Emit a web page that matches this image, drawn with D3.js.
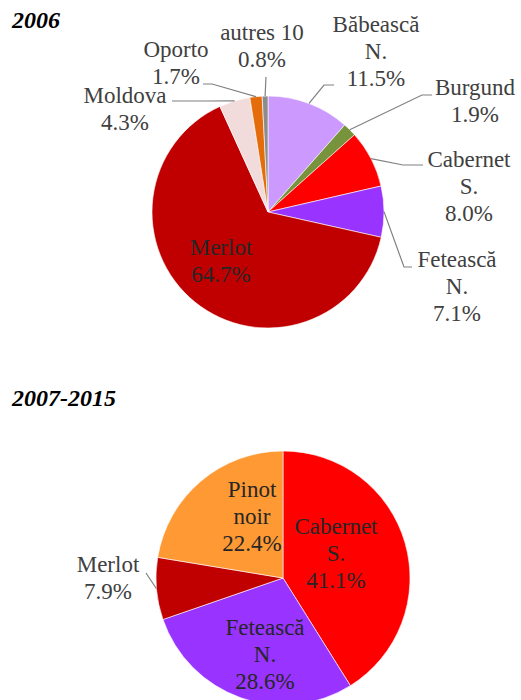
<!DOCTYPE html>
<html>
  <head>
    <meta charset="utf-8" />
    <title>Cépages 2006 / 2007-2015</title>
    <script src="https://d3js.org/d3.v7.min.js"></script>
    <style>
      body {
          margin: 0;
          background: #fff;
      }
    </style>
  </head>
  <body>

    <svg id="chart"></svg>

    <script>
        // data (percent of area)
        var cats2006 = ["Băbească N.", "Burgund", "Cabernet S.", "Fetească N.", "Merlot", "Moldova", "Oporto", "autres 10"];
        var vals2006 = [11.5, 1.9, 8.0, 7.1, 64.7, 4.3, 1.7, 0.8];

        var cats0715 = ["Cabernet S.", "Fetească N.", "Merlot", "Pinot noir"];
        var vals0715 = [41.1, 28.6, 7.9, 22.4];

        var colors2006 = ["#cc99ff", "#77933c", "#ff0000", "#9933ff", "#c00000", "#f2dcdb", "#e46c0a", "#8c8c8c"];
        var colors0715 = ["#ff0000", "#9933ff", "#c00000", "#ff9933"];

        var width = 521;
        var height = 700;
        var lineH = 27;
        var serif = "Liberation Serif";

        var svg = d3.select("#chart")
          .attr("width", width)
          .attr("height", height);

        // label placement: x = centre, y = first baseline, leader = elbow + end (null = inside label)
        var layout2006 = {
          "Băbească N.": {x: 376, y: 32, split: true, leader: [[324, 85], [334, 85]]},
          "Burgund":     {x: 475, y: 95, split: false, leader: [[422, 95], [432, 95]]},
          "Cabernet S.": {x: 469, y: 167, split: true, leader: [[403, 165], [423, 165]]},
          "Fetească N.": {x: 457, y: 267, split: true, leader: [[404, 267], [412, 267]]},
          "Merlot":      {x: 221, y: 255, split: false, leader: null},
          "Moldova":     {x: 125, y: 103, split: false, leader: [[205, 101], [172, 101]]},
          "Oporto":      {x: 176, y: 57, split: false, leader: [[212, 84], [203, 84]]},
          "autres 10":   {x: 262, y: 40, split: false, leader: [[266, 77], [266, 77]]}
        };

        var layout0715 = {
          "Cabernet S.": {x: 336, y: 534, split: true, leader: null},
          "Fetească N.": {x: 265, y: 635, split: true, leader: null},
          "Merlot":      {x: 108, y: 572, split: false, leader: [[146, 573], [146, 573]]},
          "Pinot noir":  {x: 252, y: 497, split: true, leader: null}
        };

        function drawPie(cats, vals, colors, layout, cx, cy, r, title, titleY) {
          svg.append("text")
            .attr("x", 12)
            .attr("y", titleY)
            .style("font-family", serif)
            .style("font-size", "24px")
            .style("font-weight", "bold")
            .style("font-style", "italic")
            .attr("fill", "#000")
            .text(title);

          var color = d3.scaleOrdinal().domain(cats).range(colors);

          var pie = d3.pie().sort(null).value(function(d, i) { return vals[i]; });
          var arcs = pie(cats);

          var arc = d3.arc().innerRadius(0).outerRadius(r);
          var edge = d3.arc().innerRadius(r).outerRadius(r);

          var g = svg.append("g")
            .attr("transform", "translate(" + cx + "," + cy + ")");

          g.selectAll("path.slice")
            .data(arcs)
            .enter().append("path")
            .attr("class", "slice")
            .attr("d", arc)
            .attr("fill", function(d) { return color(d.data); })
            .attr("stroke", "#fff")
            .attr("stroke-width", 0.6);

          // leader lines: from the slice edge at mid angle to the label
          arcs.forEach(function(d) {
            var L = layout[d.data];
            if (!L.leader) return;
            var p = edge.centroid(d);
            var pts = [[cx + p[0], cy + p[1]]].concat(L.leader);
            svg.append("path")
              .attr("d", d3.line()(pts))
              .attr("fill", "none")
              .attr("stroke", "#808080")
              .attr("stroke-width", 1.2);
          });

          // labels
          arcs.forEach(function(d, i) {
            var L = layout[d.data];
            var lines = L.split ? d.data.split(" ") : [d.data];
            lines.push(d3.format(".1f")(vals[i]) + "%");
            var t = svg.append("text")
              .attr("text-anchor", "middle")
              .style("font-family", serif)
              .style("font-size", "23px")
              .attr("fill", L.leader ? "#404040" : "#262626");
            lines.forEach(function(s, k) {
              t.append("tspan")
                .attr("x", L.x)
                .attr("y", L.y + k * lineH)
                .text(s);
            });
          });
        }

        drawPie(cats2006, vals2006, colors2006, layout2006, 268, 212, 116, "2006", 28);
        drawPie(cats0715, vals0715, colors0715, layout0715, 283, 578, 127, "2007-2015", 406);
    </script>
  </body>
</html>
